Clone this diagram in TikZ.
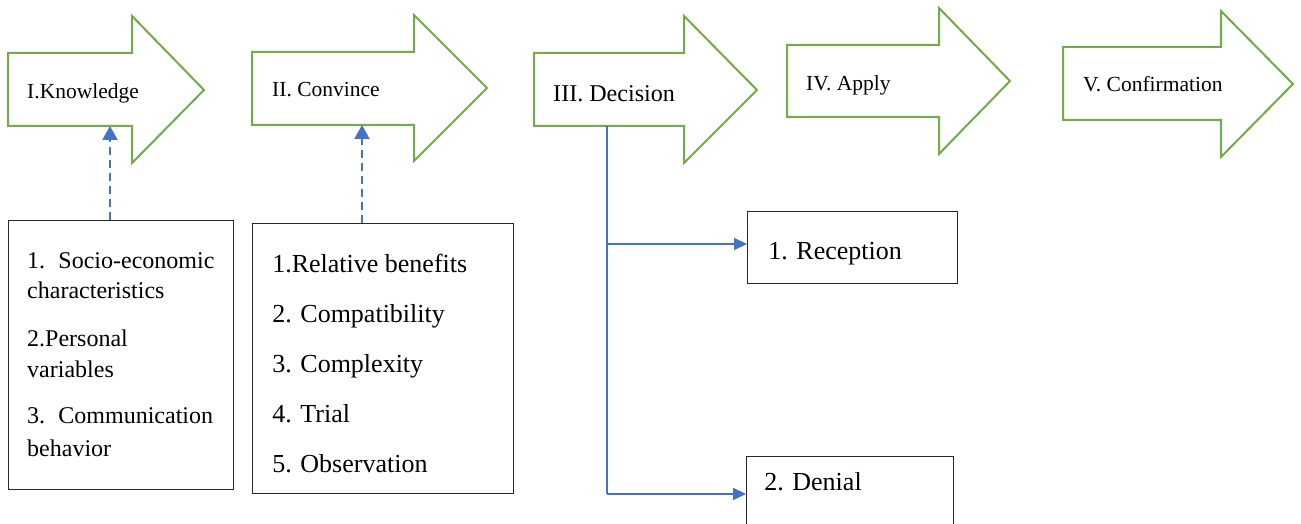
\documentclass[tikz,border=0pt]{standalone}
\usepackage{fontspec}
\setmainfont{Liberation Serif}
\usetikzlibrary{arrows.meta}
\definecolor{stagegreen}{HTML}{70AD47}
\definecolor{linkblue}{HTML}{4472C4}
\tikzset{
  basefont/.style={font=\fontsize{20}{24}\selectfont},
  stage/.style={draw=stagegreen, line width=2pt, fill=white, line join=miter},
  stagetext/.style={anchor=base west, inner sep=0pt, basefont, scale=1.075},
  itembox/.style={draw=black!85, line width=1.3pt, fill=white, anchor=north west, inner sep=0pt},
  itemtext/.style={anchor=base west, inner sep=0pt, basefont, scale=1.2},
  itemtextb/.style={anchor=base west, inner sep=0pt, basefont, scale=1.3},
  dashlink/.style={draw=linkblue, line width=2pt, dash pattern=on 8pt off 5pt, -{Triangle[width=15pt,length=14pt]}},
  trunk/.style={draw=linkblue, line width=1.1pt},
  branch/.style={draw=linkblue, line width=2pt, -{Triangle[width=12pt,length=13pt]}}
}
\begin{document}
\begin{tikzpicture}[x=1pt,y=-1pt]
\useasboundingbox (0,0) rectangle (1301,524);
\clip (0,0) rectangle (1301,524);
% stage arrows
\draw[stage] (8,53) -- (132,53) -- (132,16) -- (204,90) -- (132,163) -- (132,126) -- (8,126) -- cycle;
\draw[stage] (252,52) -- (414,52) -- (414,15) -- (487,88) -- (414,161) -- (414,125) -- (252,125) -- cycle;
\draw[stage] (534,53) -- (684,53) -- (684,16) -- (757,90) -- (684,163) -- (684,126) -- (534,126) -- cycle;
\draw[stage] (787,45) -- (939,45) -- (939,8) -- (1010,81) -- (939,154) -- (939,117) -- (787,117) -- cycle;
\draw[stage] (1063,47) -- (1221,47) -- (1221,11) -- (1293,84) -- (1221,157) -- (1221,120) -- (1063,120) -- cycle;
\node[stagetext] (s1) at (27,99) {I.Knowledge};
\node[stagetext] (s2) at (272,97) {II. Convince};
\node[stagetext, scale=1.12] (s3) at (553,102) {III. Decision};
\node[stagetext] (s4) at (806,91) {IV. Apply};
\node[stagetext] (s5) at (1083,92) {V. Confirmation};
\coordinate (s1in) at (110,126);
\coordinate (s2in) at (362,125);
\coordinate (s3out) at (607,126);
% boxes
\node[itembox, minimum width=225pt, minimum height=269pt] (b1) at (8,220) {};
\node[itemtext] (b1a) at (27,268) {1.\hspace{11pt}Socio-economic};
\node[itemtext] (b1b) at (27,298) {characteristics};
\node[itemtext] (b1c) at (27,346) {2.Personal};
\node[itemtext] (b1d) at (27,377) {variables};
\node[itemtext] (b1e) at (27,423) {3.\hspace{11pt}Communication};
\node[itemtext] (b1f) at (27,456) {behavior};
\node[itembox, minimum width=261pt, minimum height=270pt] (b2) at (252,223) {};
\node[itemtextb] (b2a) at (272,272) {1.Relative benefits};
\node[itemtextb] (b2b) at (272,322) {2. Compatibility};
\node[itemtextb] (b2c) at (272,372) {3. Complexity};
\node[itemtextb] (b2d) at (272,422) {4. Trial};
\node[itemtextb] (b2e) at (272,472) {5. Observation};
\node[itembox, minimum width=210pt, minimum height=72pt] (r1) at (747,211) {};
\node[itemtextb] (r1t) at (768,259) {1. Reception};
\node[itembox, minimum width=207pt, minimum height=80pt] (r2) at (746,456) {};
\node[itemtextb] (r2t) at (764,490) {2. Denial};
% connectors
\draw[dashlink] (b1.north -| s1in) -- (s1in);
\draw[dashlink] (b2.north -| s2in) -- (s2in);
\coordinate (br1) at (607,244);
\coordinate (br2) at (607,494);
\draw[trunk] (s3out) -- (br2);
\draw[branch] (br1) -- (br1 -| r1.west);
\draw[branch] (br2) -- (br2 -| r2.west);
\end{tikzpicture}
\end{document}
